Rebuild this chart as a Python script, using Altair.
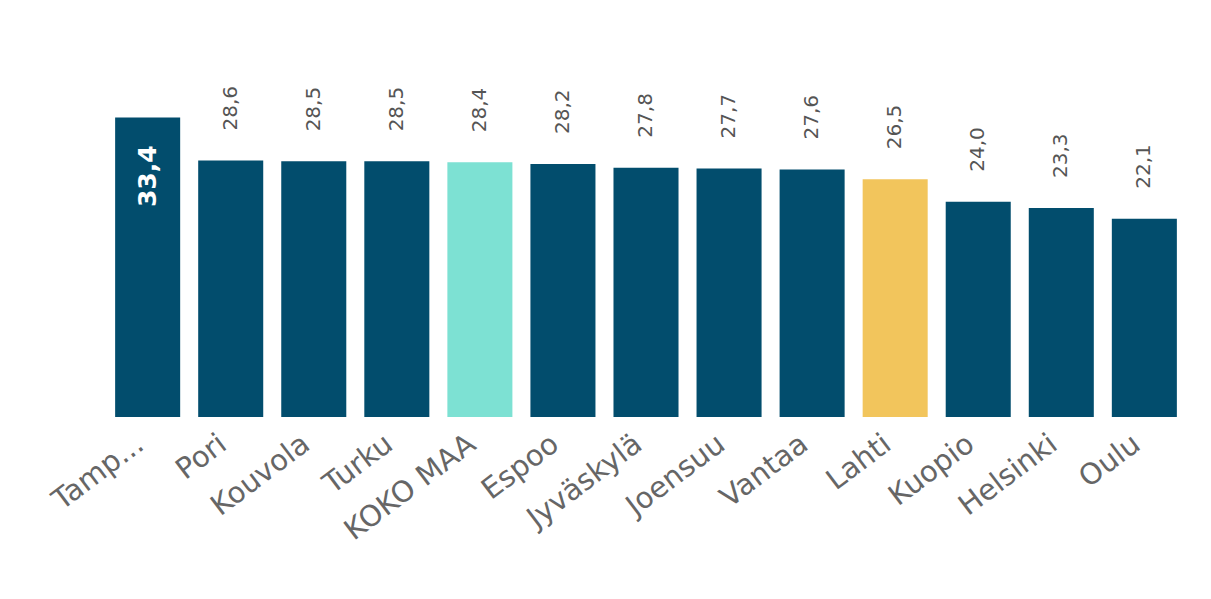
import altair as alt
import pandas as pd

categories = ["Tampere", "Pori", "Kouvola", "Turku", "KOKO MAA", "Espoo", "Jyväskylä",
              "Joensuu", "Vantaa", "Lahti", "Kuopio", "Helsinki", "Oulu"]
values = [33.4, 28.6, 28.5, 28.5, 28.4, 28.2, 27.8, 27.7, 27.6, 26.5, 24.0, 23.3, 22.1]
groups = ["kaupunki", "kaupunki", "kaupunki", "kaupunki", "koko", "kaupunki", "kaupunki",
          "kaupunki", "kaupunki", "lahti", "kaupunki", "kaupunki", "kaupunki"]
inside = [True] + [False] * 12

df = pd.DataFrame({"kategoria": categories, "arvo": values, "ryhma": groups, "sisalla": inside})

x = alt.X("kategoria:N", sort=categories, title=None,
          scale=alt.Scale(paddingInner=0.217, paddingOuter=0.11),
          axis=alt.Axis(labelAngle=-37, labelAlign="right", labelBaseline="top",
                        labelFont="DejaVu Sans", labelFontSize=29, labelColor="#666666",
                        labelPadding=12, labelOffset=-16, ticks=False, domain=False,
                        labelLimit=400,
                        labelExpr="datum.label == 'Tampere' ? 'Tamp...' : datum.label"))
y = alt.Y("arvo:Q", title=None, scale=alt.Scale(domain=[0, 39.8], nice=False, zero=True),
          axis=None)

base = alt.Chart(df).encode(x=x, y=y).transform_calculate(
    teksti="replace(format(datum.arvo, '.1f'), '.', ',')")

bars = base.mark_bar().encode(
    color=alt.Color("ryhma:N", legend=None,
                    scale=alt.Scale(domain=["kaupunki", "koko", "lahti"],
                                    range=["#024d6d", "#7de1d3", "#f2c55c"])))

outside_text = base.transform_filter("!datum.sisalla").mark_text(
    angle=270, align="left", baseline="middle", dx=30, font="DejaVu Sans",
    fontSize=20, color="#555555").encode(text="teksti:N")

inside_text = base.transform_filter("datum.sisalla").mark_text(
    angle=270, align="right", baseline="middle", dx=-28, font="DejaVu Sans",
    fontSize=25, fontWeight="bold", color="#ffffff").encode(text="teksti:N")

chart = alt.layer(bars, outside_text, inside_text).properties(
    width=1080, height=357,
    autosize=alt.AutoSizeParams(type="none"),
    padding={"left": 98, "top": 52, "right": 5, "bottom": 150},
).configure_view(stroke=None)

chart.save("out.html", embed_options={"renderer": "svg", "actions": False})
